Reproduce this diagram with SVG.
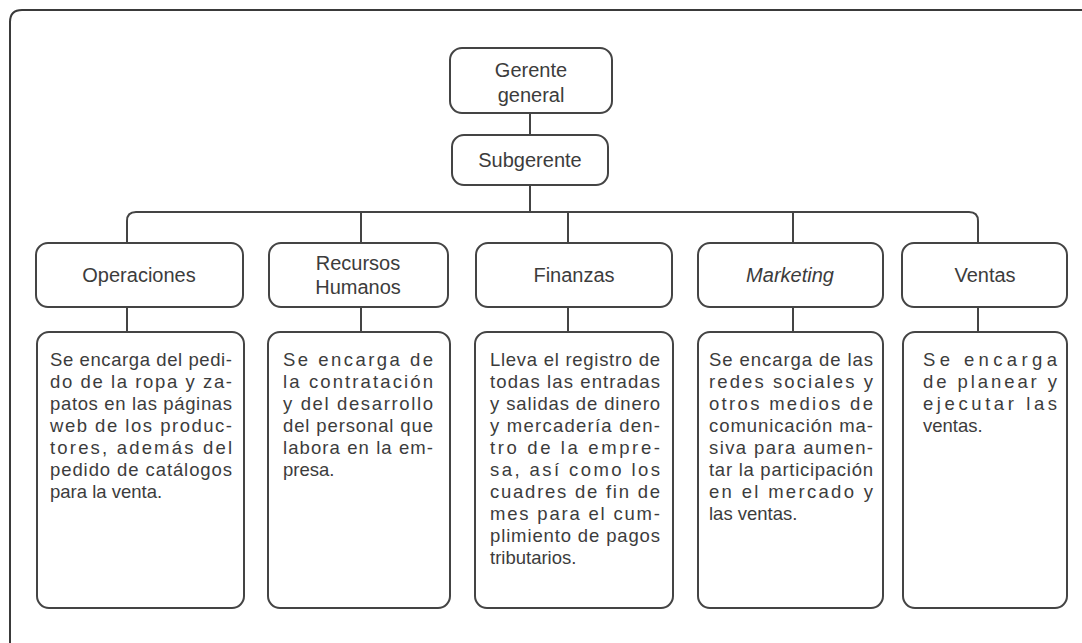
<svg xmlns="http://www.w3.org/2000/svg" width="1082" height="643" viewBox="0 0 1082 643">
  <style>
    .frame { fill: none; stroke: #3a3a3a; stroke-width: 2; }
    .box { fill: #ffffff; stroke: #444444; stroke-width: 2; }
    .conn { fill: none; stroke: #444444; stroke-width: 2; }
    .head { font-family: "Liberation Sans", Arial, sans-serif; font-size: 20px; fill: #3c3c3c; text-anchor: middle; }
    .body { font-family: "Liberation Sans", Arial, sans-serif; font-size: 18.5px; fill: #3c3c3c; }
  </style>
  <rect width="1082" height="643" fill="#ffffff"/>

  <!-- outer frame (open at the bottom and right) -->
  <path class="frame" d="M 10 643 V 22 Q 10 10 22 10 H 1082"/>

  <!-- connectors -->
  <g id="connectors">
    <line class="conn" x1="530" y1="113" x2="530" y2="135"/>
    <line class="conn" x1="530" y1="185" x2="530" y2="212"/>
    <path class="conn" d="M 127 243 V 221 Q 127 212 136 212 H 969 Q 978 212 978 221 V 243"/>
    <line class="conn" x1="361" y1="212" x2="361" y2="243"/>
    <line class="conn" x1="568" y1="212" x2="568" y2="243"/>
    <line class="conn" x1="793" y1="212" x2="793" y2="243"/>
    <line class="conn" x1="127" y1="307" x2="127" y2="332"/>
    <line class="conn" x1="361" y1="307" x2="361" y2="332"/>
    <line class="conn" x1="568" y1="307" x2="568" y2="332"/>
    <line class="conn" x1="793" y1="307" x2="793" y2="332"/>
    <line class="conn" x1="978" y1="307" x2="978" y2="332"/>
  </g>

  <g id="gerente-general">
    <rect class="box" x="450" y="48" width="162" height="65" rx="12"/>
    <text class="head" x="531" y="77">Gerente</text>
    <text class="head" x="531" y="102">general</text>
  </g>

  <g id="subgerente">
    <rect class="box" x="452" y="135" width="156" height="50" rx="12"/>
    <text class="head" x="530" y="167">Subgerente</text>
  </g>

  <g id="operaciones">
    <rect class="box" x="36" y="243" width="207" height="64" rx="12"/>
    <text class="head" x="139" y="282">Operaciones</text>
  </g>

  <g id="recursos-humanos">
    <rect class="box" x="269" y="243" width="179" height="64" rx="12"/>
    <text class="head" x="358" y="270">Recursos</text>
    <text class="head" x="358" y="294">Humanos</text>
  </g>

  <g id="finanzas">
    <rect class="box" x="476" y="243" width="196" height="64" rx="12"/>
    <text class="head" x="574" y="282">Finanzas</text>
  </g>

  <g id="marketing">
    <rect class="box" x="698" y="243" width="185" height="64" rx="12"/>
    <text class="head" x="790" y="282" font-style="italic">Marketing</text>
  </g>

  <g id="ventas">
    <rect class="box" x="902" y="243" width="165" height="64" rx="12"/>
    <text class="head" x="985" y="282">Ventas</text>
  </g>

  <g id="operaciones-detalle">
    <rect class="box" x="37" y="332" width="207" height="276" rx="12"/>
    <text class="body" x="50" y="366" textLength="182" lengthAdjust="spacing">Se encarga del pedi-</text>
    <text class="body" x="50" y="388" textLength="182" lengthAdjust="spacing">do de la ropa y  za-</text>
    <text class="body" x="50" y="410" textLength="182" lengthAdjust="spacing">patos en las páginas</text>
    <text class="body" x="50" y="432" textLength="182" lengthAdjust="spacing">web de los produc-</text>
    <text class="body" x="50" y="454" textLength="182" lengthAdjust="spacing">tores, además del</text>
    <text class="body" x="50" y="476" textLength="182" lengthAdjust="spacing">pedido de catálogos</text>
    <text class="body" x="50" y="498">para la venta.</text>
  </g>

  <g id="recursos-humanos-detalle">
    <rect class="box" x="268" y="332" width="182" height="276" rx="12"/>
    <text class="body" x="283" y="366" textLength="150" lengthAdjust="spacing">Se encarga de</text>
    <text class="body" x="283" y="388" textLength="150" lengthAdjust="spacing">la contratación</text>
    <text class="body" x="283" y="410" textLength="150" lengthAdjust="spacing">y del desarrollo</text>
    <text class="body" x="283" y="432" textLength="150" lengthAdjust="spacing">del personal que</text>
    <text class="body" x="283" y="454" textLength="150" lengthAdjust="spacing">labora en la em-</text>
    <text class="body" x="283" y="476">presa.</text>
  </g>

  <g id="finanzas-detalle">
    <rect class="box" x="475" y="332" width="198" height="276" rx="12"/>
    <text class="body" x="490" y="366" textLength="170" lengthAdjust="spacing">Lleva el registro de</text>
    <text class="body" x="490" y="388" textLength="170" lengthAdjust="spacing">todas las entradas</text>
    <text class="body" x="490" y="410" textLength="170" lengthAdjust="spacing">y salidas de dinero</text>
    <text class="body" x="490" y="432" textLength="170" lengthAdjust="spacing">y mercadería den-</text>
    <text class="body" x="490" y="454" textLength="170" lengthAdjust="spacing">tro de la empre-</text>
    <text class="body" x="490" y="476" textLength="170" lengthAdjust="spacing">sa, así como los</text>
    <text class="body" x="490" y="498" textLength="170" lengthAdjust="spacing">cuadres de fin de</text>
    <text class="body" x="490" y="520" textLength="170" lengthAdjust="spacing">mes para el cum-</text>
    <text class="body" x="490" y="542" textLength="170" lengthAdjust="spacing">plimiento de pagos</text>
    <text class="body" x="490" y="564">tributarios.</text>
  </g>

  <g id="marketing-detalle">
    <rect class="box" x="698" y="332" width="185" height="276" rx="12"/>
    <text class="body" x="709" y="366" textLength="164" lengthAdjust="spacing">Se encarga de las</text>
    <text class="body" x="709" y="388" textLength="164" lengthAdjust="spacing">redes sociales y</text>
    <text class="body" x="709" y="410" textLength="164" lengthAdjust="spacing">otros medios de</text>
    <text class="body" x="709" y="432" textLength="164" lengthAdjust="spacing">comunicación ma-</text>
    <text class="body" x="709" y="454" textLength="164" lengthAdjust="spacing">siva para aumen-</text>
    <text class="body" x="709" y="476" textLength="164" lengthAdjust="spacing">tar la participación</text>
    <text class="body" x="709" y="498" textLength="164" lengthAdjust="spacing">en el mercado y</text>
    <text class="body" x="709" y="520">las ventas.</text>
  </g>

  <g id="ventas-detalle">
    <rect class="box" x="903" y="332" width="164" height="276" rx="12"/>
    <text class="body" x="923" y="366" textLength="134" lengthAdjust="spacing">Se encarga</text>
    <text class="body" x="923" y="388" textLength="134" lengthAdjust="spacing">de planear y</text>
    <text class="body" x="923" y="410" textLength="134" lengthAdjust="spacing">ejecutar las</text>
    <text class="body" x="923" y="432">ventas.</text>
  </g>
</svg>
